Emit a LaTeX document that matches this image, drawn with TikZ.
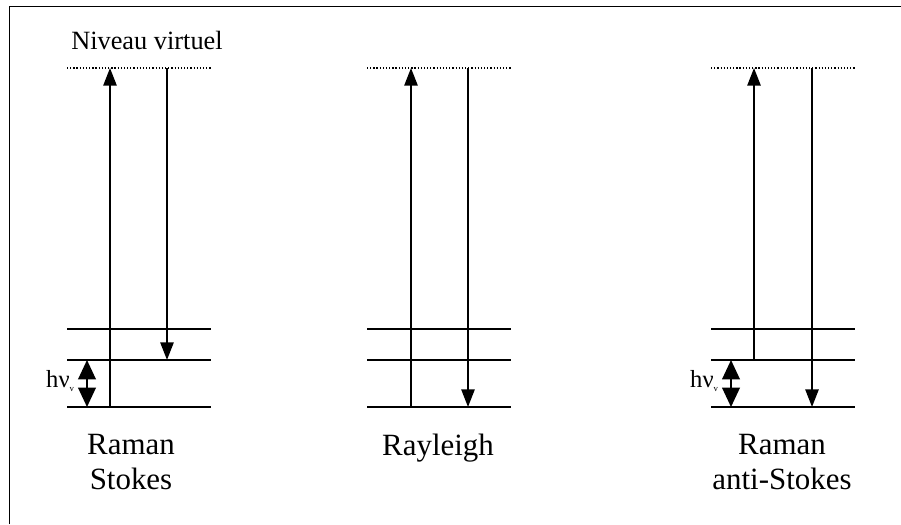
\documentclass[tikz,border=0pt]{standalone}
\usepackage{fontspec}
\setmainfont{Liberation Serif}
\usetikzlibrary{arrows.meta}

\begin{document}
\begin{tikzpicture}[x=0.02cm, y=-0.02cm,
    level/.style={line width=1.1pt},
    virt/.style={line width=0.7pt, dash pattern=on 0.7pt off 1.1pt},
    trans/.style={-{Triangle[length=10pt,width=7.5pt]}, line width=1.1pt},
    gap/.style={{Triangle[length=11pt,width=10pt]}-{Triangle[length=11pt,width=10pt]}, line width=1.1pt},
    lbl/.style={font=\fontsize{17.6}{20}\selectfont, align=center, anchor=north}
]
\useasboundingbox (0,0) rectangle (901,524);

% Cadre
\draw[line width=1.1pt] (9.5,524) -- (9.5,6.5) -- (901,6.5);

% Niveaux
\draw[virt] (67,68) -- (211,68);
\draw[virt] (367,68) -- (511,68);
\draw[virt] (711,68) -- (855,68);
\draw[level] (67,329) -- (211,329);
\draw[level] (67,360) -- (211,360);
\draw[level] (67,407) -- (211,407);
\draw[level] (367,329) -- (511,329);
\draw[level] (367,360) -- (511,360);
\draw[level] (367,407) -- (511,407);
\draw[level] (711,329) -- (855,329);
\draw[level] (711,360) -- (855,360);
\draw[level] (711,407) -- (855,407);

% Points des transitions
\coordinate (stUpA) at (110,407);
\coordinate (stUpB) at (110,68);
\coordinate (stDnA) at (167,68);
\coordinate (stDnB) at (167,360);
\coordinate (stGapA) at (87,360);
\coordinate (stGapB) at (87,407);
\coordinate (raUpA) at (411,407);
\coordinate (raUpB) at (411,68);
\coordinate (raDnA) at (468,68);
\coordinate (raDnB) at (468,407);
\coordinate (asUpA) at (754,360);
\coordinate (asUpB) at (754,68);
\coordinate (asDnA) at (812,68);
\coordinate (asDnB) at (812,407);
\coordinate (asGapA) at (731,360);
\coordinate (asGapB) at (731,407);

% Transitions
\draw[trans] (stUpA) -- (stUpB);
\draw[trans] (stDnA) -- (stDnB);
\draw[gap] (stGapA) -- (stGapB);
\draw[trans] (raUpA) -- (raUpB);
\draw[trans] (raDnA) -- (raDnB);
\draw[trans] (asUpA) -- (asUpB);
\draw[trans] (asDnA) -- (asDnB);
\draw[gap] (asGapA) -- (asGapB);

% Textes
\node[font=\fontsize{15}{18}\selectfont] (virtuel) at (147,40) {Niveau virtuel};
\node[font=\fontsize{14}{16}\selectfont, anchor=east, inner sep=1pt] (hvst) at (77,381) {hν\textsubscript{\tiny v}};
\node[font=\fontsize{14}{16}\selectfont, anchor=east, inner sep=1pt] (hvas) at (721,381) {hν\textsubscript{\tiny v}};
\node[lbl] (stokes) at (131,428) {Raman\\Stokes};
\node[lbl] (rayleigh) at (438,428) {Rayleigh};
\node[lbl] (antistokes) at (782,428) {Raman\\anti-Stokes};

\end{tikzpicture}
\end{document}
